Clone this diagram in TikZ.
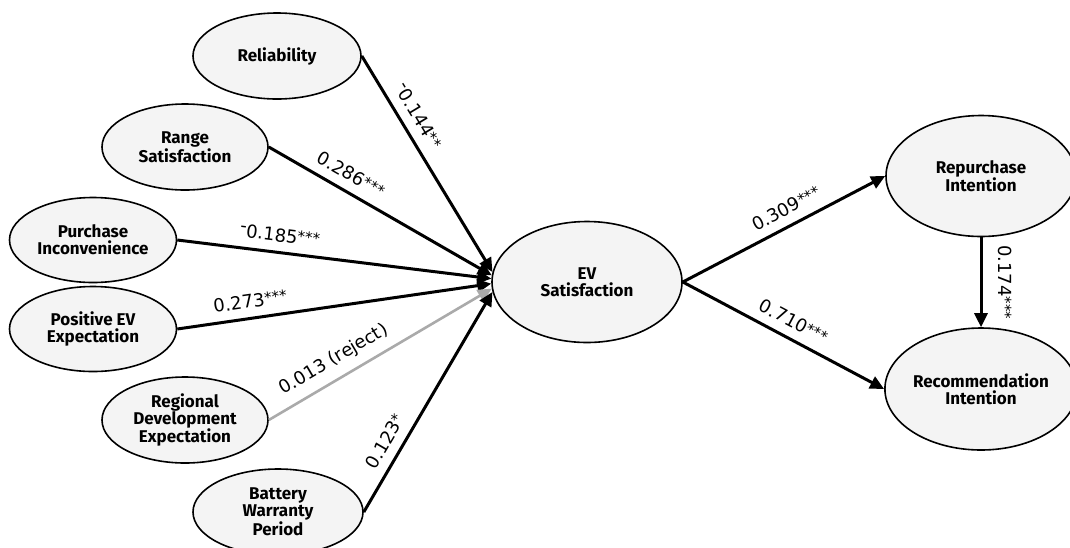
\documentclass[tikz,border=0pt]{standalone}
\usepackage{fontspec}
\setmainfont{Fira Sans}
\newfontfamily\lblfont{DejaVu Sans}
\usetikzlibrary{shapes.geometric,arrows.meta}
\definecolor{nodefill}{HTML}{F4F4F4}
\definecolor{rejgray}{HTML}{AAAAAA}
\newcommand\myminus{\raisebox{5pt}{-}}
\newcommand\mystars[1]{\raisebox{2pt}{\fontsize{15}{15}\selectfont #1}}
\begin{document}
\begin{tikzpicture}[x=1pt,y=-1pt,
  latent/.style={ellipse, draw=black, line width=1.6pt, fill=nodefill, inner sep=0pt, align=center,
    font=\fontsize{17}{17}\selectfont\bfseries},
  effect/.style={line width=3pt, -{Triangle[length=14pt,width=13pt]}},
  rejected/.style={line width=2.6pt, draw=rejgray, -{Triangle[length=14pt,width=13pt]}},
  coef/.style={font=\lblfont\fontsize{18}{18}\selectfont, inner sep=2pt, sloped, above=7pt}
]
\useasboundingbox (0,0) rectangle (1070,547);
\clip (0,0) rectangle (1070,547);

\node[latent, minimum width=168pt, minimum height=86pt] (rel) at (277,56) {Reliability};
\node[latent, minimum width=166pt, minimum height=86pt] (rng) at (185,147) {Range\\Satisfaction};
\node[latent, minimum width=167pt, minimum height=85pt] (pur) at (93,240) {Purchase\\Inconvenience};
\node[latent, minimum width=167pt, minimum height=85pt] (pos) at (93,329) {Positive EV\\Expectation};
\node[latent, minimum width=166pt, minimum height=86pt] (reg) at (185,420) {Regional\\Development\\Expectation};
\node[latent, minimum width=170pt, minimum height=86pt] (bat) at (278,512) {Battery\\Warranty\\Period};
\node[latent, minimum width=190pt, minimum height=121pt] (ev) at (587,282) {EV\\Satisfaction};
\node[latent, minimum width=190pt, minimum height=121pt] (rep) at (981,176) {Repurchase\\Intention};
\node[latent, minimum width=190pt, minimum height=122pt] (rec) at (981,389) {Recommendation\\Intention};

\draw[effect] (rel.east) -- node[coef, pos=0.32] {\myminus0.144\mystars{**}} (ev.174);
\draw[effect] (rng.east) -- node[coef, pos=0.33] {0.286\mystars{***}} (ev.176);
\draw[effect] (pur.east) -- node[coef, pos=0.32] {\myminus0.185\mystars{***}} (ev.178);
\draw[effect] (pos.east) -- node[coef, pos=0.24] {0.273\mystars{***}} (ev.181);
\draw[rejected] (reg.east) -- node[coef, pos=0.335] {0.013 (reject)} (ev.184);
\draw[effect] (bat.east) -- node[coef, pos=0.28] {0.123\mystars{*}} (ev.186);

\draw[effect] (ev.east) -- node[coef, pos=0.55] {0.309\mystars{***}} (rep.west);
\draw[effect] (ev.east) -- node[coef, pos=0.51] {0.710\mystars{***}} (rec.west);
\draw[effect] (rep.south) -- node[midway, xshift=24pt, rotate=-90, inner sep=2pt,
  font=\lblfont\fontsize{18}{18}\selectfont] {0.174\mystars{***}} (rec.north);
\end{tikzpicture}
\end{document}
